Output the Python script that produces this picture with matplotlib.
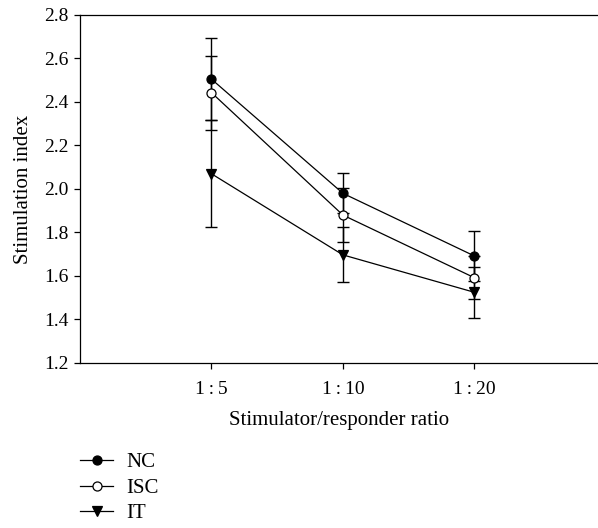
import numpy as np
import matplotlib.pyplot as plt

plt.rcParams['font.family'] = ['Liberation Serif', 'DejaVu Serif']
plt.rcParams['font.size'] = 14

# Dados
ratios = ['1\u2009:\u20095', '1\u2009:\u200910', '1\u2009:\u200920']
nc = [2.505, 1.980, 1.692]
nc_err = [0.188, 0.092, 0.115]
isc = [2.443, 1.880, 1.592]
isc_err = [0.170, 0.123, 0.098]
it = [2.070, 1.697, 1.525]
it_err = [0.247, 0.126, 0.117]

x = np.arange(1, len(ratios) + 1)

fig = plt.figure(figsize=(5.98, 5.28), dpi=100)
ax = fig.add_axes([0.1338, 0.3125, 0.8662, 0.6591])

series = [
    ('NC', nc, nc_err, dict(marker='o', mfc='black')),
    ('ISC', isc, isc_err, dict(marker='o', mfc='white')),
    ('IT', it, it_err, dict(marker='v', mfc='black')),
]

handles = []
for nome, y, e, estilo in series:
    ax.errorbar(x, y, yerr=e, fmt='none', ecolor='black', elinewidth=1.0,
                capsize=4.5, capthick=1.0, zorder=2)
    h, = ax.plot(x, y, color='black', lw=0.9, ms=6.5, mec='black', mew=0.9,
                 zorder=3, label=nome, **estilo)
    handles.append(h)

ax.set_xlim(0, 3.94)
ax.set_ylim(1.2, 2.8)
ax.set_xticks(x)
ax.set_xticklabels(ratios)
ax.set_yticks(np.arange(1.2, 2.81, 0.2))
ax.yaxis.set_major_formatter(plt.FormatStrFormatter('%.1f'))
ax.tick_params(direction='out', length=4, width=0.9, pad=4)
ax.tick_params(axis='x', pad=9)
ax.spines['right'].set_visible(False)
for s in ['left', 'top', 'bottom']:
    ax.spines[s].set_linewidth(0.9)

ax.set_xlabel('Stimulator/responder ratio', fontsize=15, labelpad=9)
ax.set_ylabel('Stimulation index', fontsize=15, labelpad=8)

fig.legend(handles=handles, loc='upper left', bbox_to_anchor=(0.12, 0.158),
           frameon=False, fontsize=15, handlelength=1.6, handletextpad=0.6,
           labelspacing=0.28, borderaxespad=0)

fig.savefig('out.png', dpi=100)
